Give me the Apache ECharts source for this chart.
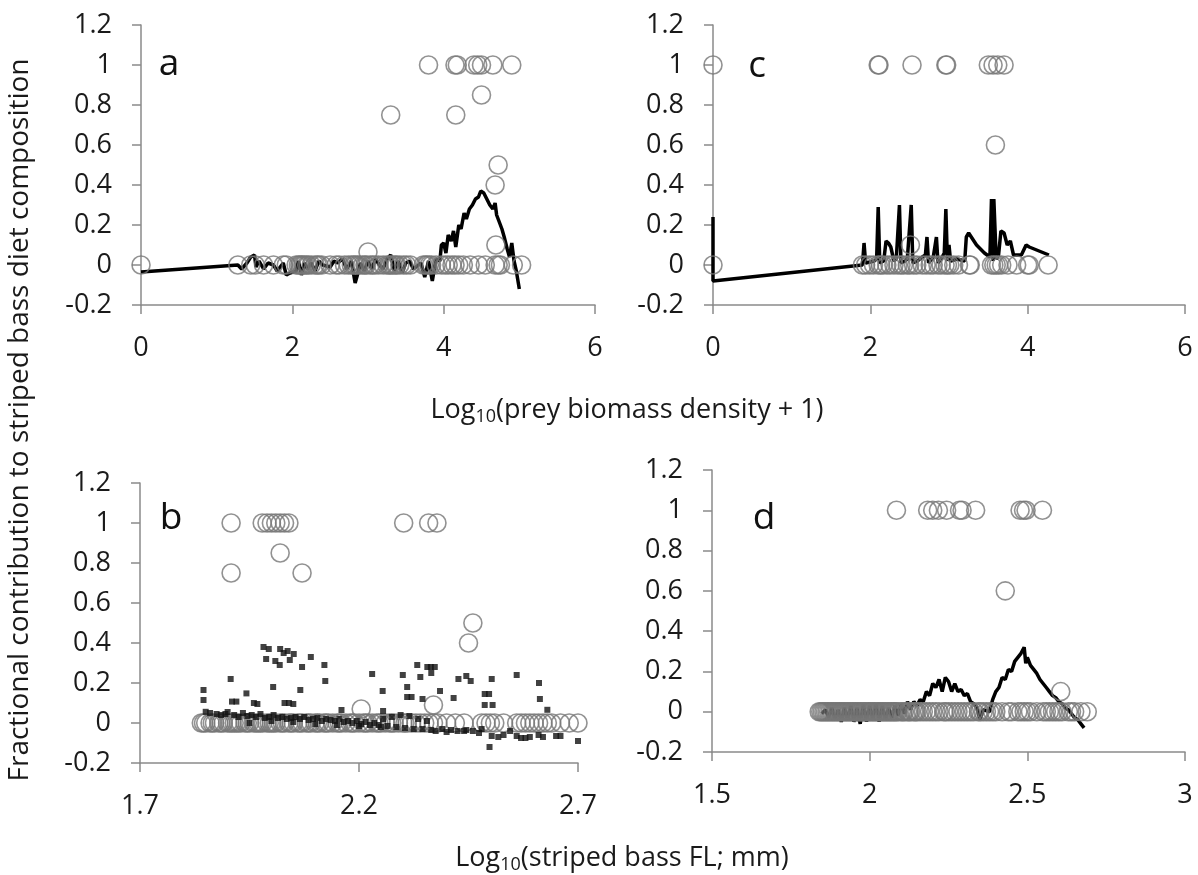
<!DOCTYPE html>
<html>
<head>
<meta charset="utf-8">
<script src="https://cdn.jsdelivr.net/npm/echarts@6/dist/echarts.min.js"></script>
<style>
  html, body { margin: 0; padding: 0; background: #fff; }
  #chart { width: 1198px; height: 875px; }
</style>
</head>
<body>
<div id="chart"></div>
<script>
// panel a: prey biomass density, observed diet fractions (zeros listed by x only)
var aZeroX = [0, 1.28, 1.45, 1.51, 1.62, 1.75, 1.88, 1.92, 2.05, 2.08, 2.1, 2.12, 2.14, 2.16, 2.19, 2.21, 2.25,
    2.3, 2.33, 2.35, 2.39, 2.5, 2.58, 2.62, 2.69, 2.74, 2.78, 2.81, 2.83, 2.86, 2.89, 2.93, 2.96, 2.98,
    3.03, 3.06, 3.09, 3.14, 3.2, 3.25, 3.28, 3.3, 3.33, 3.36, 3.38, 3.42, 3.47, 3.51, 3.56, 3.73, 3.76,
    3.78, 3.81, 3.84, 3.9, 3.97, 4.02, 4.06, 4.11, 4.15, 4.2, 4.26, 4.35, 4.46, 4.55, 4.68, 4.72, 4.75,
    4.92, 5.03];
var aHigh = [[3.8, 1], [4.15, 1], [4.18, 1], [4.4, 1], [4.45, 1], [4.5, 1], [4.65, 1], [4.9, 1],
    [4.5, 0.85], [3.3, 0.75], [4.16, 0.75], [4.72, 0.5], [4.68, 0.4], [4.69, 0.1], [3.0, 0.065]];
var aFit = [[0, -0.035], [1.28, 0], [1.33, -0.02], [1.4, 0.01], [1.45, 0.04], [1.5, 0.05], [1.52, -0.01],
    [1.56, 0.02], [1.62, -0.02], [1.68, 0.01], [1.75, 0], [1.8, -0.03], [1.88, 0.01], [1.92, -0.05],
    [1.97, -0.04], [2.05, -0.03], [2.08, 0.02], [2.12, -0.05], [2.16, 0.01], [2.2, -0.02], [2.25, 0.01],
    [2.3, -0.03], [2.35, 0.02], [2.4, 0], [2.5, -0.01], [2.55, 0.02], [2.6, 0.01], [2.66, 0.03],
    [2.72, -0.02], [2.78, 0.02], [2.83, -0.09], [2.86, -0.05], [2.9, 0.01], [2.95, -0.03], [3.0, 0.02],
    [3.05, -0.02], [3.1, 0.03], [3.15, 0], [3.2, -0.02], [3.25, 0.03], [3.3, 0.05], [3.35, -0.03],
    [3.4, 0.02], [3.45, -0.04], [3.5, 0.01], [3.55, 0.02], [3.6, -0.02], [3.7, 0.01], [3.75, -0.06],
    [3.8, 0.02], [3.85, -0.08], [3.9, 0.03], [3.95, 0.02], [3.97, 0.1], [4.0, 0.11], [4.03, 0.06],
    [4.06, 0.15], [4.1, 0.12], [4.13, 0.17], [4.16, 0.09], [4.2, 0.2], [4.23, 0.18], [4.27, 0.26],
    [4.3, 0.23], [4.34, 0.28], [4.38, 0.3], [4.42, 0.33], [4.46, 0.34], [4.49, 0.37], [4.53, 0.36],
    [4.57, 0.33], [4.61, 0.3], [4.65, 0.28], [4.68, 0.31], [4.7, 0.25], [4.73, 0.22], [4.77, 0.18],
    [4.8, 0.14], [4.84, 0.08], [4.87, 0.04], [4.9, 0.11], [4.93, 0.02], [4.96, -0.03], [5.0, -0.12]];

// panel c
var cZeroX = [0, 1.9, 1.94, 1.99, 2.04, 2.1, 2.13, 2.16, 2.21, 2.25, 2.3, 2.35, 2.39, 2.42, 2.47, 2.5, 2.55,
    2.59, 2.66, 2.71, 2.76, 2.8, 2.86, 2.9, 2.95, 2.98, 3.01, 3.06, 3.12, 3.26, 3.27, 3.54, 3.57, 3.6,
    3.63, 3.67, 3.75, 3.86, 4.0, 4.02, 4.26];
var cHigh = [[0, 1], [2.1, 1], [2.11, 1], [2.53, 1], [2.96, 1], [2.97, 1], [3.5, 1], [3.56, 1], [3.62, 1],
    [3.7, 1], [3.59, 0.6], [2.51, 0.1]];
var cFit = [[0, 0.24], [0, -0.08], [1.9, 0], [1.92, 0.11], [1.94, 0.01], [2.05, 0.02], [2.08, 0.03],
    [2.1, 0.29], [2.12, 0.01], [2.17, 0.02], [2.2, 0.12], [2.23, 0.11], [2.26, 0.09], [2.3, 0.02],
    [2.33, 0.03], [2.37, 0.3], [2.39, 0.01], [2.44, 0.02], [2.47, 0.03], [2.52, 0.3], [2.54, 0.01],
    [2.6, 0.02], [2.66, 0.04], [2.7, 0.05], [2.72, 0.14], [2.74, 0.01], [2.8, 0.04], [2.84, 0.14],
    [2.86, 0.01], [2.9, 0.03], [2.94, 0.06], [2.96, 0.28], [2.98, 0.02], [3.0, 0.1], [3.02, 0.02],
    [3.1, 0.03], [3.2, 0.02], [3.22, 0.14], [3.25, 0.16], [3.35, 0.1], [3.45, 0.06], [3.52, 0.04],
    [3.54, 0.33], [3.56, 0.02], [3.57, 0.33], [3.6, 0.03], [3.63, 0.05], [3.66, 0.17], [3.7, 0.16],
    [3.74, 0.1], [3.78, 0.12], [3.82, 0.05], [3.92, 0.05], [3.98, 0.1], [4.02, 0.09], [4.27, 0.05]];

// panel b: striped bass FL
var bZeroX = [1.84, 1.845, 1.85, 1.86, 1.865, 1.87, 1.88, 1.885, 1.89, 1.9, 1.905, 1.91, 1.915, 1.92, 1.925,
    1.93, 1.94, 1.945, 1.95, 1.96, 1.965, 1.97, 1.975, 1.98, 1.99, 1.995, 2.0, 2.005, 2.01, 2.02, 2.025,
    2.03, 2.04, 2.045, 2.05, 2.06, 2.065, 2.07, 2.08, 2.085, 2.09, 2.1, 2.105, 2.11, 2.12, 2.125, 2.13,
    2.14, 2.15, 2.155, 2.16, 2.17, 2.18, 2.185, 2.19, 2.2, 2.21, 2.215, 2.22, 2.23, 2.24, 2.245, 2.25,
    2.26, 2.27, 2.275, 2.28, 2.29, 2.3, 2.305, 2.31, 2.32, 2.33, 2.34, 2.35, 2.36, 2.37, 2.38, 2.4, 2.42,
    2.44, 2.48, 2.49, 2.5, 2.51, 2.53, 2.56, 2.57, 2.58, 2.59, 2.6, 2.61, 2.62, 2.63, 2.64, 2.66, 2.68, 2.7];
var bHigh = [[1.908, 1], [1.979, 1], [1.99, 1], [2.0, 1], [2.01, 1], [2.02, 1], [2.03, 1], [2.04, 1],
    [2.302, 1], [2.359, 1], [2.378, 1], [1.908, 0.75], [2.02, 0.85], [2.07, 0.75], [2.46, 0.5],
    [2.45, 0.4], [2.205, 0.07], [2.37, 0.09]];
var bPred = [[1.845, 0.165], [1.845, 0.115], [1.85, 0.056], [1.907, 0.22], [1.91, 0.107], [1.92, 0.107],
    [1.943, 0.148], [1.96, 0.1], [1.968, 0.095], [1.982, 0.38], [1.994, 0.37], [1.988, 0.32], [2.004, 0.18],
    [2.009, 0.31], [2.019, 0.29], [2.02, 0.37], [2.037, 0.36], [2.028, 0.35], [2.051, 0.345], [2.042, 0.315],
    [2.03, 0.1], [2.04, 0.1], [2.05, 0.095], [2.066, 0.165], [2.07, 0.28], [2.09, 0.33], [2.121, 0.29],
    [2.123, 0.21], [2.16, 0.065], [2.23, 0.245], [2.254, 0.16], [2.255, 0.06], [2.3, 0.24], [2.31, 0.18],
    [2.31, 0.13], [2.32, 0.13], [2.333, 0.29], [2.34, 0.23], [2.345, 0.12], [2.356, 0.28], [2.364, 0.28],
    [2.373, 0.28], [2.365, 0.25], [2.385, 0.16], [2.416, 0.125], [2.427, 0.22], [2.445, 0.235],
    [2.455, 0.21], [2.487, 0.145], [2.497, 0.145], [2.487, 0.09], [2.505, 0.09], [2.503, 0.22],
    [2.56, 0.24], [2.611, 0.2], [2.613, 0.12], [2.63, 0.066], [2.498, -0.12],
    [2.425, -0.04], [2.44, -0.04], [2.445, -0.035], [2.474, -0.05], [2.503, -0.065], [2.518, -0.07],
    [2.53, -0.06], [2.545, -0.04], [2.56, -0.065], [2.57, -0.075], [2.58, -0.075], [2.59, -0.07],
    [2.61, -0.06], [2.62, -0.07], [2.65, -0.065], [2.66, -0.065], [2.7, -0.09],
    [1.86, 0.05], [1.875, 0.045], [1.885, 0.04], [1.895, 0.045], [1.9, 0.055], [1.915, 0.04], [1.925, 0.03],
    [1.935, 0.05], [1.945, 0.035], [1.955, 0.04], [1.965, 0.03], [1.975, 0.045], [1.985, 0.025],
    [1.995, 0.03], [2.005, 0.04], [2.015, 0.025], [2.025, 0.03], [2.035, 0.02], [2.045, 0.025],
    [2.055, 0.03], [2.065, 0.02], [2.075, 0.03], [2.085, 0.015], [2.095, 0.02], [2.105, 0.025],
    [2.115, 0.01], [2.125, 0.02], [2.135, 0.015], [2.145, 0.01], [2.155, 0.02], [2.165, 0.005],
    [2.175, 0.01], [2.185, 0], [2.195, 0.01], [2.205, -0.005], [2.215, 0.005], [2.225, -0.01],
    [2.235, 0], [2.245, -0.01], [2.255, 0.02], [2.265, -0.015], [2.275, 0.03], [2.285, -0.02],
    [2.295, 0.04], [2.305, -0.025], [2.315, 0.035], [2.325, -0.03], [2.335, 0.02], [2.345, -0.03],
    [2.355, 0.01], [2.365, -0.035], [2.375, -0.04], [2.39, -0.03], [2.4, -0.045], [2.41, -0.035],
    [2.46, -0.04], [2.48, -0.03], [1.95, 0], [2.0, 0.01], [2.05, 0.005], [2.1, -0.005], [2.15, -0.01],
    [2.2, -0.015], [2.25, -0.02]];

// panel d
var dZeroX = [1.84, 1.845, 1.85, 1.855, 1.86, 1.865, 1.87, 1.875, 1.88, 1.885, 1.89, 1.895, 1.9, 1.905, 1.91,
    1.915, 1.92, 1.925, 1.93, 1.935, 1.94, 1.945, 1.95, 1.955, 1.96, 1.965, 1.97, 1.975, 1.98, 1.985, 1.99,
    1.995, 2.0, 2.005, 2.01, 2.015, 2.02, 2.025, 2.03, 2.035, 2.04, 2.045, 2.05, 2.055, 2.06, 2.065, 2.07,
    2.075, 2.08, 2.085, 2.09, 2.1, 2.105, 2.11, 2.12, 2.125, 2.13, 2.14, 2.145, 2.15, 2.16, 2.17, 2.18,
    2.19, 2.2, 2.21, 2.22, 2.235, 2.24, 2.25, 2.26, 2.27, 2.28, 2.29, 2.3, 2.31, 2.32, 2.33, 2.345, 2.35,
    2.36, 2.37, 2.38, 2.39, 2.4, 2.42, 2.44, 2.45, 2.47, 2.48, 2.49, 2.5, 2.51, 2.53, 2.55, 2.56, 2.57,
    2.58, 2.59, 2.6, 2.61, 2.63, 2.64, 2.65, 2.67, 2.69];
var dHigh = [[2.085, 1], [2.184, 1], [2.2, 1], [2.218, 1], [2.244, 1], [2.285, 1], [2.293, 1], [2.336, 1],
    [2.477, 1], [2.488, 1], [2.496, 1], [2.548, 1], [2.43, 0.6], [2.606, 0.1]];
var dFit = [[1.848, -0.01], [1.86, 0.01], [1.87, -0.03], [1.88, 0.02], [1.89, -0.04], [1.9, 0.01],
    [1.91, -0.05], [1.92, 0.02], [1.93, -0.04], [1.94, 0.03], [1.95, -0.05], [1.96, 0.02], [1.97, -0.06],
    [1.98, 0.04], [1.99, -0.05], [2.0, 0.03], [2.01, -0.04], [2.02, 0.04], [2.03, -0.05], [2.04, 0.03],
    [2.05, -0.04], [2.06, 0.02], [2.07, -0.03], [2.08, 0.03], [2.09, -0.02], [2.1, 0.04], [2.11, -0.01],
    [2.12, 0.05], [2.13, 0.01], [2.14, 0.05], [2.15, 0.03], [2.16, 0.06], [2.17, 0.05], [2.18, 0.1],
    [2.19, 0.08], [2.2, 0.14], [2.21, 0.12], [2.22, 0.16], [2.23, 0.1], [2.24, 0.17], [2.25, 0.15],
    [2.26, 0.1], [2.27, 0.14], [2.28, 0.1], [2.29, 0.11], [2.3, 0.08], [2.31, 0.09], [2.32, 0.05],
    [2.33, 0.04], [2.34, 0.02], [2.35, -0.04], [2.36, 0.01], [2.38, 0], [2.39, 0.06], [2.4, 0.1],
    [2.41, 0.12], [2.42, 0.17], [2.43, 0.16], [2.44, 0.21], [2.45, 0.2], [2.46, 0.25], [2.47, 0.27],
    [2.48, 0.29], [2.49, 0.32], [2.495, 0.24], [2.5, 0.27], [2.51, 0.23], [2.52, 0.21], [2.53, 0.19],
    [2.54, 0.16], [2.55, 0.14], [2.56, 0.12], [2.57, 0.1], [2.58, 0.08], [2.59, 0.07], [2.6, 0.05],
    [2.61, 0.04], [2.62, 0.02], [2.63, 0.01], [2.64, -0.01], [2.65, -0.03], [2.66, -0.04], [2.67, -0.06],
    [2.68, -0.08]];

(function() {
    var chart = echarts.init(document.getElementById('chart'));
    var FONT = '"Open Sans", sans-serif';
    var axisGray = '#8a8a8a';

    function withZeros(xs, high) {
        return xs.map(function(x) { return [x, 0]; }).concat(high);
    }

    function xAx(idx, min, max, step) {
        return {
            type: 'value', gridIndex: idx, min: min, max: max, interval: step,
            splitLine: {show: false},
            axisLine: {show: true, onZero: false, lineStyle: {color: axisGray, width: 1.5}},
            axisTick: {show: true, inside: false, length: 9, lineStyle: {color: axisGray, width: 1.5}},
            axisLabel: {fontFamily: FONT, fontSize: 27, color: '#1a1a1a', margin: 30}
        };
    }
    function yAx(idx) {
        return {
            type: 'value', gridIndex: idx, min: -0.2, max: 1.2, interval: 0.2,
            splitLine: {show: false},
            axisLine: {show: true, onZero: false, lineStyle: {color: axisGray, width: 1.5}},
            axisTick: {show: true, inside: false, length: 9, lineStyle: {color: axisGray, width: 1.5}},
            axisLabel: {fontFamily: FONT, fontSize: 27, color: '#1a1a1a', margin: 29}
        };
    }
    function circles(idx, data) {
        return {
            type: 'scatter', xAxisIndex: idx, yAxisIndex: idx, data: data,
            symbol: 'circle', symbolSize: 18, z: 3,
            itemStyle: {color: 'rgba(0,0,0,0)', borderColor: '#777', borderWidth: 1.6}
        };
    }
    function fit(idx, data) {
        return {
            type: 'line', xAxisIndex: idx, yAxisIndex: idx, data: data,
            showSymbol: false, z: 2,
            lineStyle: {color: '#000', width: 3.5}
        };
    }

    var option = {
        animation: false,
        grid: [
            {left: 141, top: 25, width: 454, height: 280},
            {left: 713, top: 25, width: 472, height: 280},
            {left: 140, top: 483, width: 438, height: 280},
            {left: 712, top: 470, width: 473, height: 282}
        ],
        xAxis: [xAx(0, 0, 6, 2), xAx(1, 0, 6, 2), xAx(2, 1.7, 2.7, 0.5), xAx(3, 1.5, 3, 0.5)],
        yAxis: [yAx(0), yAx(1), yAx(2), yAx(3)],
        series: [
            fit(0, aFit),
            circles(0, withZeros(aZeroX, aHigh)),
            fit(1, cFit),
            circles(1, withZeros(cZeroX, cHigh)),
            circles(2, withZeros(bZeroX, bHigh)),
            {
                type: 'scatter', xAxisIndex: 2, yAxisIndex: 2, data: bPred,
                symbol: 'rect', symbolSize: 6, z: 4,
                itemStyle: {color: '#111'}
            },
            fit(3, dFit),
            circles(3, withZeros(dZeroX, dHigh))
        ],
        graphic: [
            {type: 'text', x: 169, y: 64, style: {text: 'a', font: '37px ' + FONT, fill: '#111', align: 'center', verticalAlign: 'middle'}},
            {type: 'text', x: 757, y: 66, style: {text: 'c', font: '37px ' + FONT, fill: '#111', align: 'center', verticalAlign: 'middle'}},
            {type: 'text', x: 171, y: 518, style: {text: 'b', font: '37px ' + FONT, fill: '#111', align: 'center', verticalAlign: 'middle'}},
            {type: 'text', x: 764, y: 518, style: {text: 'd', font: '37px ' + FONT, fill: '#111', align: 'center', verticalAlign: 'middle'}},
            {type: 'text', x: 20, y: 420, rotation: Math.PI / 2,
                style: {text: 'Fractional contribution to striped bass diet composition', font: '28px ' + FONT,
                    fill: '#1a1a1a', align: 'center', verticalAlign: 'middle'}},
            {type: 'text', x: 627, y: 410,
                style: {text: 'Log{s|10}(prey biomass density + 1)', font: '27px ' + FONT, fill: '#1a1a1a',
                    align: 'center', verticalAlign: 'middle',
                    rich: {s: {fontSize: 18, fontFamily: FONT, padding: [14, 0, 0, 0]}}}},
            {type: 'text', x: 622, y: 858,
                style: {text: 'Log{s|10}(striped bass FL; mm)', font: '27px ' + FONT, fill: '#1a1a1a',
                    align: 'center', verticalAlign: 'middle',
                    rich: {s: {fontSize: 18, fontFamily: FONT, padding: [14, 0, 0, 0]}}}}
        ]
    };
    chart.setOption(option);
})();
</script>
</body>
</html>
